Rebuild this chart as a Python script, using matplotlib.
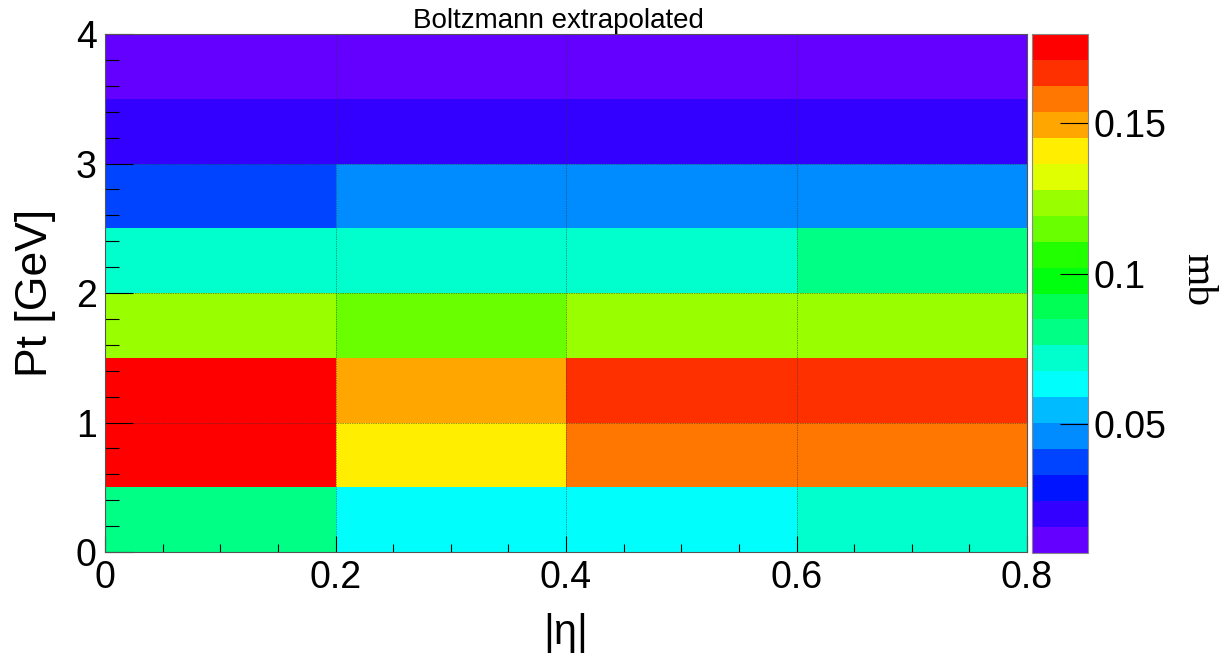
import colorsys
import numpy as np
import matplotlib
matplotlib.use("Agg")
import matplotlib.pyplot as plt
from matplotlib.colors import ListedColormap, BoundaryNorm

# bin edges
eta_edges = [0.0, 0.2, 0.4, 0.6, 0.8]
pt_edges = [0.0, 0.5, 1.0, 1.5, 2.0, 2.5, 3.0, 3.5, 4.0]

# cross section per (Pt, |eta|) bin in mb, rows go up in Pt
xsec_pt_0_05 = [0.080, 0.063, 0.064, 0.072]
xsec_pt_05_10 = [0.176, 0.141, 0.158, 0.159]
xsec_pt_10_15 = [0.1795, 0.150, 0.167, 0.166]
xsec_pt_15_20 = [0.124, 0.115, 0.123, 0.124]
xsec_pt_20_25 = [0.072, 0.071, 0.072, 0.081]
xsec_pt_25_30 = [0.037, 0.046, 0.046, 0.045]
xsec_pt_30_35 = [0.020, 0.019, 0.020, 0.020]
xsec_pt_35_40 = [0.007, 0.010, 0.011, 0.012]

z_min = 0.007
z_max = 0.1797
n_contours = 20

xsec = np.array([xsec_pt_0_05, xsec_pt_05_10, xsec_pt_10_15, xsec_pt_15_20,
                 xsec_pt_20_25, xsec_pt_25_30, xsec_pt_30_35, xsec_pt_35_40])
z_max = max(z_max, xsec.max())
z_min = min(z_min, xsec.min())

# rainbow palette: 50 HLS colours from violet to red, 20 of them picked for the contours
def palette_colour(j):
    if j == 49:
        return (1.0, 0.0, 0.0)
    hue = 280.0 - (j + 1) * 5.6
    return colorsys.hls_to_rgb(hue / 360.0, 0.5, 1.0)

colours = [palette_colour(int((i + 0.99) * 50 / n_contours)) for i in range(n_contours)]
cmap = ListedColormap(colours)
cmap.set_over(colours[-1])
cmap.set_under(colours[0])
levels = np.linspace(z_min, z_max + 1e-6, n_contours + 1)
norm = BoundaryNorm(levels, n_contours)

font = "Liberation Sans"
W, H = 1231, 661
fig = plt.figure(figsize=(W / 100, H / 100), dpi=100)
ax = fig.add_axes([105 / W, 1 - 552 / H, (1027 - 105) / W, (552 - 34) / H])
cax = fig.add_axes([1032 / W, 1 - 553 / H, (1088 - 1032) / W, (553 - 34) / H])

mesh = ax.pcolormesh(eta_edges, pt_edges, xsec, cmap=cmap, norm=norm)
ax.set_xlim(0, 0.8)
ax.set_ylim(0, 4)

ax.set_xticks([0, 0.2, 0.4, 0.6, 0.8])
ax.set_xticklabels(["0", "0.2", "0.4", "0.6", "0.8"])
ax.set_xticks(np.arange(0, 0.8001, 0.05), minor=True)
ax.set_yticks([0, 1, 2, 3, 4])
ax.set_yticklabels(["0", "1", "2", "3", "4"])
ax.set_yticks(np.arange(0, 4.001, 0.2), minor=True)

ax.tick_params(axis="x", which="major", direction="in", length=11.5, width=0.8,
               labelsize=27, pad=6)
ax.tick_params(axis="x", which="minor", direction="in", length=5.8, width=0.8)
ax.tick_params(axis="y", which="major", direction="in", length=20, width=0.8,
               labelsize=27, pad=6)
ax.tick_params(axis="y", which="minor", direction="in", length=10, width=0.8)
for lab in ax.get_xticklabels() + ax.get_yticklabels():
    lab.set_fontfamily(font)

ax.grid(True, which="major", color="#333333", linestyle=(0, (1, 1.5)), linewidth=0.5)
for s in ax.spines.values():
    s.set_color("#555555")
    s.set_linewidth(0.8)

ax.set_xlabel("|η|", fontsize=30, fontfamily=font, labelpad=12)
ax.set_ylabel("Pt [GeV]", fontsize=32, fontfamily=font, labelpad=14)

fig.text(558 / W, 1 - 21 / H, "Boltzmann extrapolated", ha="center", va="center",
         fontsize=20, fontfamily=font)

# palette axis
cb = fig.colorbar(mesh, cax=cax, ticks=[0.05, 0.1, 0.15])
cb.ax.set_yticklabels(["0.05", "0.1", "0.15"])
cb.outline.set_edgecolor("#888888")
cb.outline.set_linewidth(0.8)
cax.tick_params(axis="y", direction="in", length=20, width=0.8, labelsize=27, pad=4)
cax.minorticks_off()
for lab in cax.get_yticklabels():
    lab.set_fontfamily(font)
fig.text(1197 / W, 1 - 280 / H, "mb", rotation=270, ha="center", va="center",
         fontsize=30, fontfamily="Liberation Serif")

fig.savefig("out.png", dpi=100)
